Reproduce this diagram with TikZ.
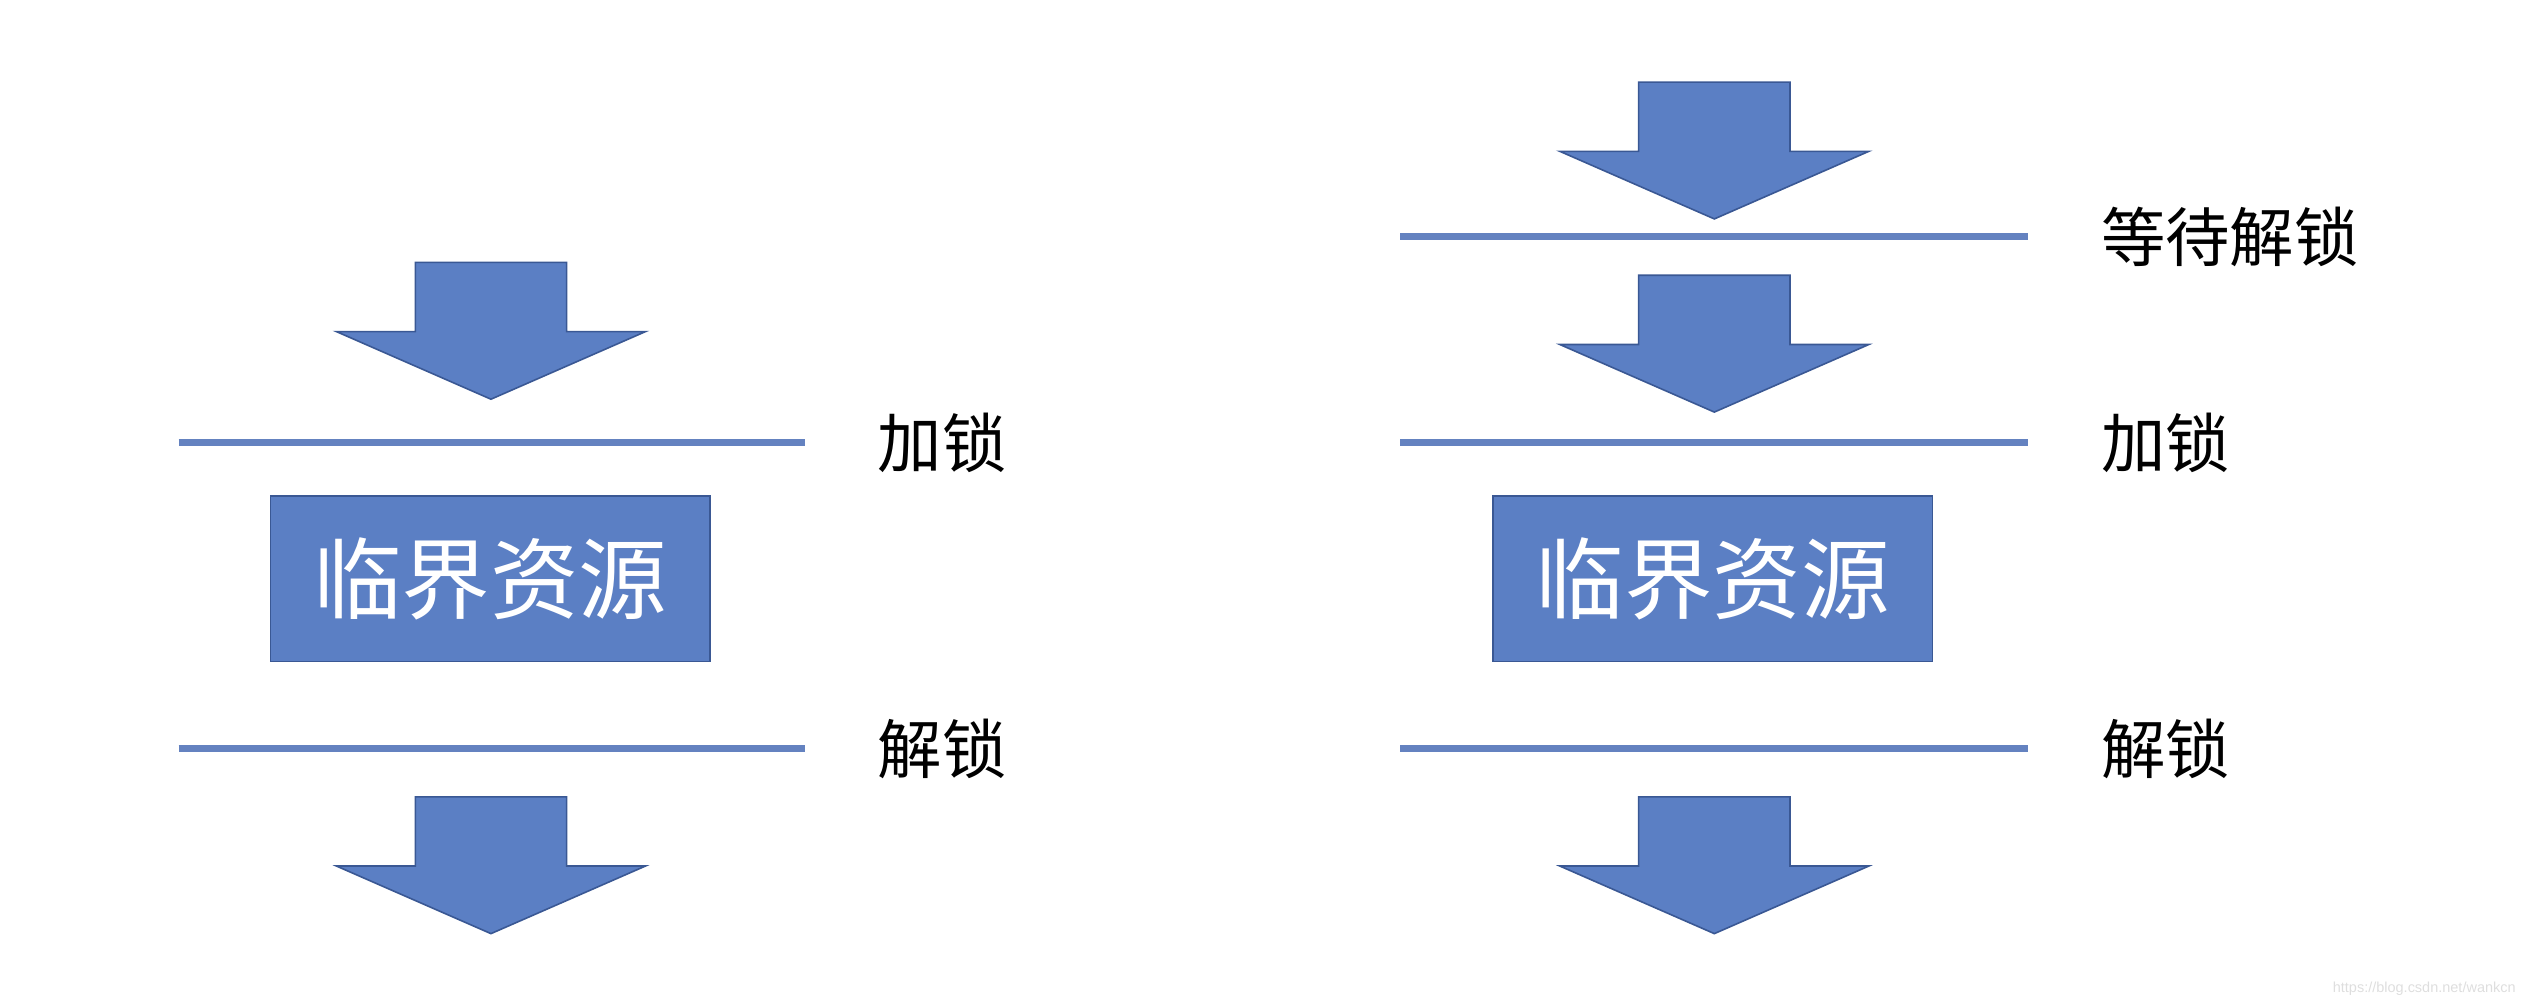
\documentclass[tikz,border=0pt]{standalone}
\usepackage{fontspec}
\newfontfamily\cjk{Noto Sans CJK SC}
\newfontfamily\wmfont{Liberation Sans}
\usepackage{tikz}
\usetikzlibrary{positioning}
\definecolor{lockblue}{RGB}{91,127,196}
\definecolor{lockedge}{RGB}{58,88,148}
\definecolor{lockline}{RGB}{100,130,192}

\tikzset{
  res/.style = {draw=lockedge, line width=1pt, fill=lockblue, text=white, minimum width=273pt, minimum height=103pt, inner sep=0pt, font=\cjk\fontsize{55}{60}\selectfont},
  lbl/.style = {inner sep=0pt, font=\cjk\fontsize{40}{46}\selectfont},
  bar/.style = {lockline, line width=4pt},
  dnarrow/.pic = {\draw[draw=lockedge, line width=1pt, fill=lockblue, line join=miter]
    (-47,0) -- (47,0) -- (47,43) -- (96,43) -- (0,85) -- (-96,43) -- (-47,43) -- cycle;}
}

\begin{document}
\begin{tikzpicture}[x=1pt, y=-1pt]
  \useasboundingbox (0,0) rectangle (1568,624);
  % left: plain lock
  \pic at (305,163) {dnarrow};
  \coordinate (la1) at (111,275);
  \coordinate (lb1) at (500,275);
  \draw[bar] (la1) -- (lb1);
  \node[lbl, right=45pt of lb1] (lock1) {加锁};
  \node[res] (crit1) at (304.5,359.5) {临界资源};
  \coordinate (la2) at (111,465);
  \coordinate (lb2) at (500,465);
  \draw[bar] (la2) -- (lb2);
  \node[lbl, right=45pt of lb2] (unlock1) {解锁};
  \pic at (305,495) {dnarrow};

  % right: wait for unlock first
  \pic at (1065,51) {dnarrow};
  \coordinate (ra0) at (870,147);
  \coordinate (rb0) at (1260,147);
  \draw[bar] (ra0) -- (rb0);
  \node[lbl, right=45pt of rb0] (wait2) {等待解锁};
  \pic at (1065,171) {dnarrow};
  \coordinate (ra1) at (870,275);
  \coordinate (rb1) at (1260,275);
  \draw[bar] (ra1) -- (rb1);
  \node[lbl, right=45pt of rb1] (lock2) {加锁};
  \node[res] (crit2) at (1064,359.5) {临界资源};
  \coordinate (ra2) at (870,465);
  \coordinate (rb2) at (1260,465);
  \draw[bar] (ra2) -- (rb2);
  \node[lbl, right=45pt of rb2] (unlock2) {解锁};
  \pic at (1065,495) {dnarrow};

  \node[anchor=east, inner sep=0pt, text=black!13, font=\wmfont\fontsize{9}{10}\selectfont] (mark) at (1563,614) {https://blog.csdn.net/wankcn};
\end{tikzpicture}
\end{document}
